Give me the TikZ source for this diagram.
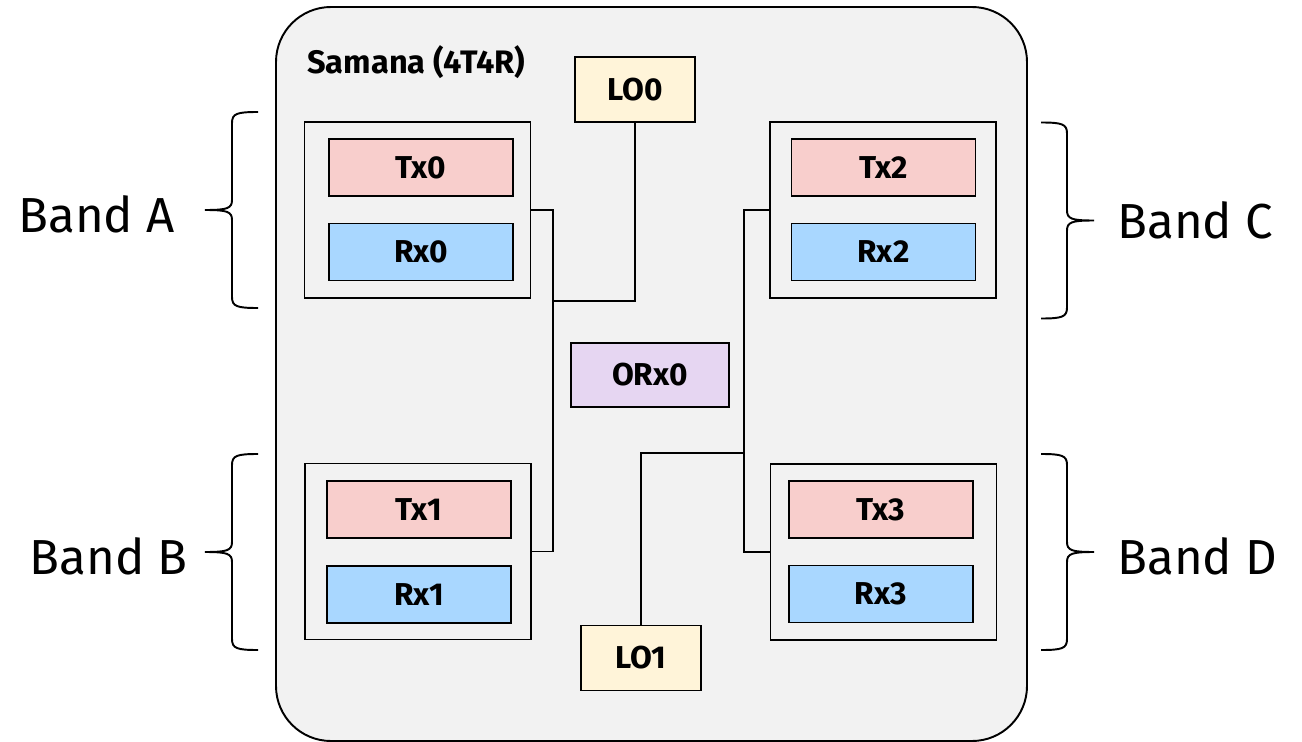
\documentclass[tikz,border=0pt]{standalone}
\usepackage{fontspec}
\setmainfont{Fira Sans}
\usepackage{tikz}

\definecolor{chipbg}{HTML}{F2F2F2}
\definecolor{txfill}{HTML}{F8CECC}
\definecolor{rxfill}{HTML}{A9D7FF}
\definecolor{orxfill}{HTML}{E6D6F2}
\definecolor{lofill}{HTML}{FFF4D9}

\tikzset{
  wire/.style={line width=1.1pt},
  unit/.style={draw,line width=1.1pt,minimum width=3.68cm,minimum height=1.14cm,font=\fontsize{18}{20}\selectfont\bfseries},
  txbox/.style={unit,fill=txfill},
  rxbox/.style={unit,fill=rxfill},
  lobox/.style={draw,line width=1.1pt,fill=lofill,minimum width=2.4cm,minimum height=1.3cm,font=\fontsize{18}{20}\selectfont\bfseries},
  grpbox/.style={draw,line width=1.1pt,fill=chipbg,minimum width=4.52cm,minimum height=3.52cm},
  bandlabel/.style={font=\fontsize{28}{30}\selectfont,inner sep=0pt},
  pics/bandbrace/.style={code={
    \draw[line width=1.1pt] (1.06,1.96) .. controls (0.64,1.96) and (0.54,1.93) .. (0.54,1.74)
      -- (0.54,0.2) .. controls (0.54,0.03) and (0.44,0) .. (0,0)
      .. controls (0.44,0) and (0.54,-0.03) .. (0.54,-0.2)
      -- (0.54,-1.74) .. controls (0.54,-1.93) and (0.64,-1.96) .. (1.06,-1.96);
  }}
}

\begin{document}
\begin{tikzpicture}
	\useasboundingbox (0,0) rectangle (26.04,-14.84);
	% chip outline
	\node[draw,line width=1.1pt,fill=chipbg,rounded corners=1.1cm,minimum width=15.02cm,minimum height=14.68cm] (chip) at (13.03,-7.48) {};
	\node[anchor=west,inner sep=0pt,font=\fontsize{18.5}{20}\selectfont\bfseries] (title) at (6.14,-1.24) {Samana (4T4R)};

	% band groups
	\node[grpbox] (grpA) at (8.35,-4.2) {};
	\node[txbox] (tx0) at (8.42,-3.35) {Tx0};
	\node[rxbox] (rx0) at (8.42,-5.04) {Rx0};
	\node[grpbox] (grpB) at (8.36,-11.03) {};
	\node[txbox] (tx1) at (8.38,-10.19) {Tx1};
	\node[rxbox] (rx1) at (8.38,-11.89) {Rx1};
	\node[grpbox] (grpC) at (17.66,-4.2) {};
	\node[txbox] (tx2) at (17.67,-3.35) {Tx2};
	\node[rxbox] (rx2) at (17.67,-5.04) {Rx2};
	\node[grpbox] (grpD) at (17.67,-11.04) {};
	\node[txbox] (tx3) at (17.62,-10.19) {Tx3};
	\node[rxbox] (rx3) at (17.62,-11.88) {Rx3};

	% oscillators and observation rx
	\node[lobox] (lo0) at (12.7,-1.79) {LO0};
	\node[lobox] (lo1) at (12.82,-13.16) {LO1};
	\node[draw,line width=1.1pt,fill=orxfill,minimum width=3.16cm,minimum height=1.28cm,font=\fontsize{18}{20}\selectfont\bfseries] (orx0) at (13.0,-7.5) {ORx0};

	% LO buses
	\coordinate (busL) at (11.06,-6.02);
	\coordinate (busR) at (14.88,-9.06);
	\draw[wire] (grpA.east) -| (busL |- grpB.east) -- (grpB.east);
	\draw[wire] (lo0.south) |- (busL);
	\draw[wire] (grpC.west) -| (busR |- grpD.west) -- (grpD.west);
	\draw[wire] (lo1.north) |- (busR);

	% bands
	\pic at (4.1,-4.2) {bandbrace};
	\node[bandlabel,anchor=east] (bandA) at (3.5,-4.28) {Band A};
	\pic at (4.1,-11.04) {bandbrace};
	\node[bandlabel,anchor=east] (bandB) at (3.76,-11.12) {Band B};
	\pic[xscale=-1] at (21.88,-4.41) {bandbrace};
	\node[bandlabel,anchor=west] (bandC) at (22.34,-4.4) {Band C};
	\pic[xscale=-1] at (21.88,-11.04) {bandbrace};
	\node[bandlabel,anchor=west] (bandD) at (22.34,-11.12) {Band D};
\end{tikzpicture}
\end{document}
